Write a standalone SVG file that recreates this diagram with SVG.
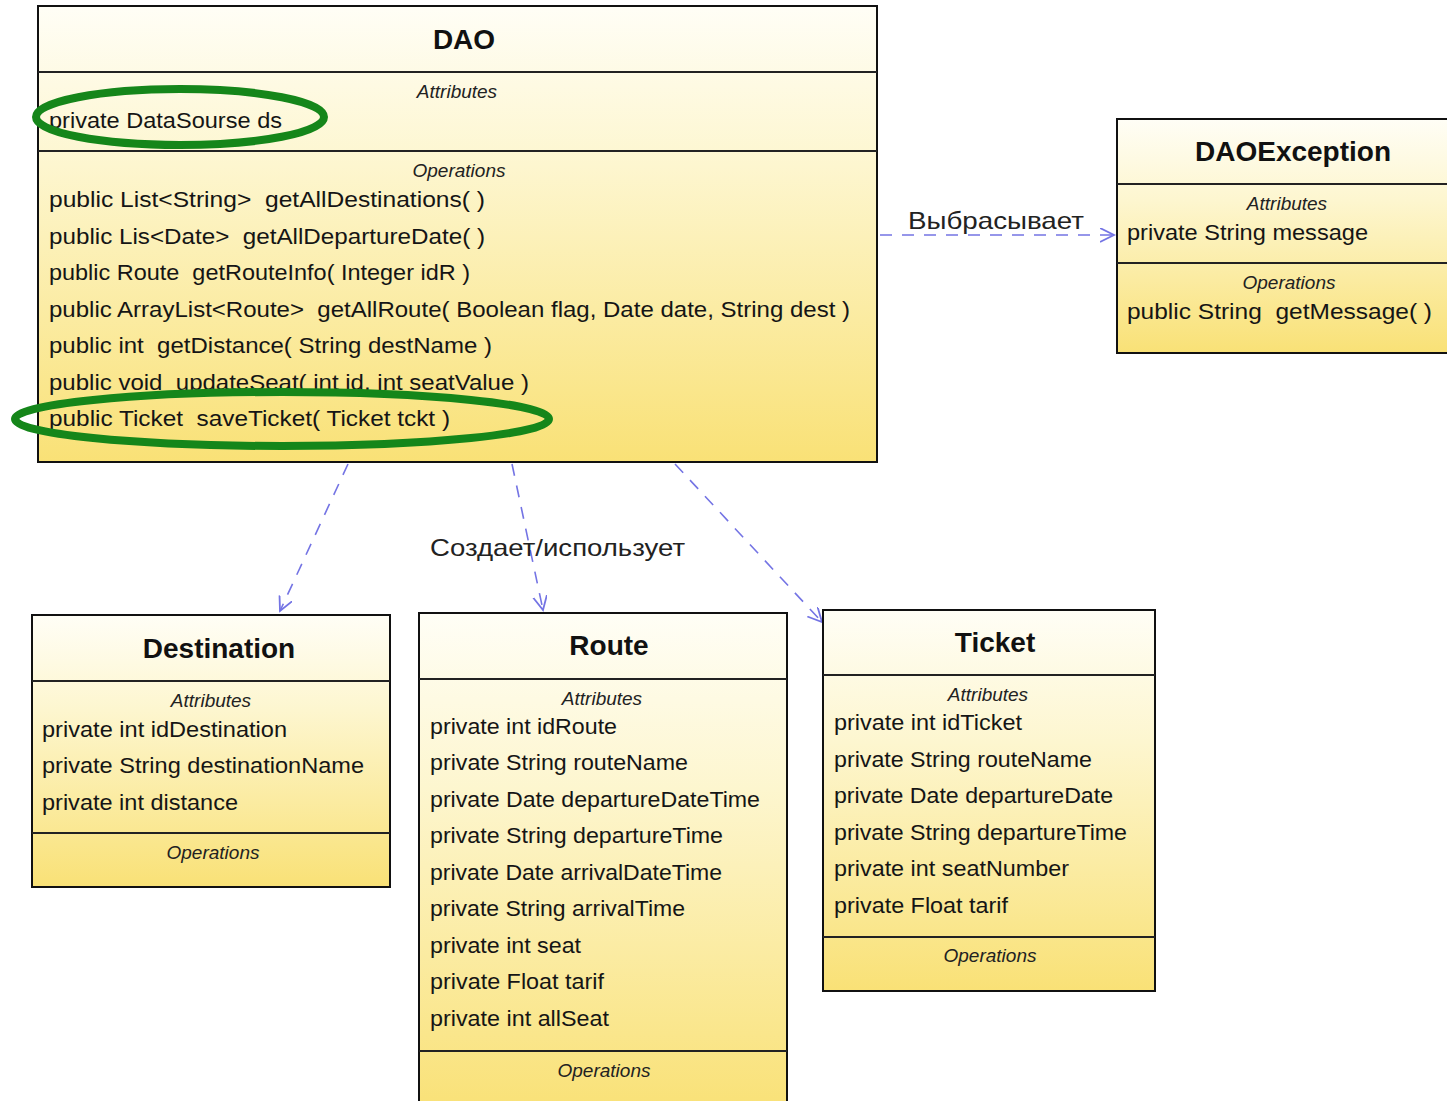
<svg xmlns="http://www.w3.org/2000/svg" width="1447" height="1101" viewBox="0 0 1447 1101" xml:space="preserve">
<style>
.box{stroke:#111;stroke-width:2;fill:url(#g)}
.sep{stroke:#222;stroke-width:2}
.title{font-family:"Liberation Sans",Arial,sans-serif;font-weight:bold;font-size:28px;fill:#111;text-anchor:middle}
.sec{font-family:"Liberation Sans",Arial,sans-serif;font-style:italic;font-size:19px;fill:#222;text-anchor:middle}
.row{font-family:"Liberation Sans",Arial,sans-serif;font-size:22px;fill:#151515;white-space:pre}
.lbl{font-family:"Liberation Sans",Arial,sans-serif;font-size:24px;fill:#222}
.conn{stroke:#7474e4;stroke-width:1.6;fill:none;stroke-dasharray:12 10}
.hl{fill:none;stroke:#15861a;stroke-width:8}
</style>
<defs>
<linearGradient id="g" x1="0" y1="0" x2="0" y2="1">
<stop offset="0" stop-color="#fffef6"/>
<stop offset="0.35" stop-color="#fdf6cf"/>
<stop offset="1" stop-color="#f9e176"/>
</linearGradient>
<marker id="arr" markerUnits="userSpaceOnUse" markerWidth="20" markerHeight="20" refX="14" refY="7" orient="auto" viewBox="0 0 20 20">
<path d="M0,0 L14,7 L0,14" fill="none" stroke="#7474e4" stroke-width="1.8"/>
</marker>
</defs>
<rect width="1447" height="1101" fill="#ffffff"/>

<g id="connectors">
<line class="conn" x1="880" y1="235" x2="1114" y2="235" marker-end="url(#arr)"/>
<line class="conn" x1="348" y1="464" x2="280" y2="611" marker-end="url(#arr)"/>
<line class="conn" x1="512" y1="464" x2="543" y2="610" marker-end="url(#arr)"/>
<line class="conn" x1="675" y1="464" x2="822" y2="622" marker-end="url(#arr)"/>
<text class="lbl" x="908" y="229" textLength="176" lengthAdjust="spacingAndGlyphs">Выбрасывает</text>
<text class="lbl" x="430" y="556" textLength="255" lengthAdjust="spacingAndGlyphs">Создает/использует</text>
</g>

<g id="DAO">
<rect class="box" x="38" y="6" width="839" height="456"/>
<line class="sep" x1="38" y1="72" x2="877" y2="72"/>
<line class="sep" x1="38" y1="151" x2="877" y2="151"/>
<text class="title" x="464" y="49">DAO</text>
<text class="sec" x="457" y="98">Attributes</text>
<text class="row" x="49" y="128" textLength="233" lengthAdjust="spacingAndGlyphs">private DataSourse ds</text>
<text class="sec" x="459" y="177">Operations</text>
<text class="row" x="49" y="207" textLength="436" lengthAdjust="spacingAndGlyphs">public List&lt;String&gt;  getAllDestinations( )</text>
<text class="row" x="49" y="244" textLength="436" lengthAdjust="spacingAndGlyphs">public Lis&lt;Date&gt;  getAllDepartureDate( )</text>
<text class="row" x="49" y="280" textLength="421" lengthAdjust="spacingAndGlyphs">public Route  getRouteInfo( Integer idR )</text>
<text class="row" x="49" y="317" textLength="801" lengthAdjust="spacingAndGlyphs">public ArrayList&lt;Route&gt;  getAllRoute( Boolean flag, Date date, String dest )</text>
<text class="row" x="49" y="353" textLength="443" lengthAdjust="spacingAndGlyphs">public int  getDistance( String destName )</text>
<text class="row" x="49" y="390" textLength="480" lengthAdjust="spacingAndGlyphs">public void  updateSeat( int id, int seatValue )</text>
<text class="row" x="49" y="426" textLength="401" lengthAdjust="spacingAndGlyphs">public Ticket  saveTicket( Ticket tckt )</text>
</g>

<g id="highlights">
<ellipse class="hl" cx="180" cy="117" rx="144" ry="28"/>
<ellipse class="hl" cx="282" cy="419" rx="267" ry="27"/>
</g>

<g id="DAOException">
<rect class="box" x="1117" y="119" width="345" height="234"/>
<line class="sep" x1="1117" y1="184" x2="1462" y2="184"/>
<line class="sep" x1="1117" y1="263" x2="1462" y2="263"/>
<text class="title" x="1293" y="161">DAOException</text>
<text class="sec" x="1287" y="210">Attributes</text>
<text class="row" x="1127" y="240" textLength="241" lengthAdjust="spacingAndGlyphs">private String message</text>
<text class="sec" x="1289" y="289">Operations</text>
<text class="row" x="1127" y="319" textLength="305" lengthAdjust="spacingAndGlyphs">public String  getMessage( )</text>
</g>

<g id="Destination">
<rect class="box" x="32" y="615" width="358" height="272"/>
<line class="sep" x1="32" y1="681" x2="390" y2="681"/>
<line class="sep" x1="32" y1="833" x2="390" y2="833"/>
<text class="title" x="219" y="658">Destination</text>
<text class="sec" x="211" y="707">Attributes</text>
<text class="row" x="42" y="737" textLength="245" lengthAdjust="spacingAndGlyphs">private int idDestination</text>
<text class="row" x="42" y="773" textLength="322" lengthAdjust="spacingAndGlyphs">private String destinationName</text>
<text class="row" x="42" y="810" textLength="196" lengthAdjust="spacingAndGlyphs">private int distance</text>
<text class="sec" x="213" y="859">Operations</text>
</g>

<g id="Route">
<rect class="box" x="419" y="613" width="368" height="500"/>
<line class="sep" x1="419" y1="679" x2="787" y2="679"/>
<line class="sep" x1="419" y1="1051" x2="787" y2="1051"/>
<text class="title" x="609" y="655">Route</text>
<text class="sec" x="602" y="705">Attributes</text>
<text class="row" x="430" y="734" textLength="187" lengthAdjust="spacingAndGlyphs">private int idRoute</text>
<text class="row" x="430" y="770" textLength="258" lengthAdjust="spacingAndGlyphs">private String routeName</text>
<text class="row" x="430" y="807" textLength="330" lengthAdjust="spacingAndGlyphs">private Date departureDateTime</text>
<text class="row" x="430" y="843" textLength="293" lengthAdjust="spacingAndGlyphs">private String departureTime</text>
<text class="row" x="430" y="880" textLength="292" lengthAdjust="spacingAndGlyphs">private Date arrivalDateTime</text>
<text class="row" x="430" y="916" textLength="255" lengthAdjust="spacingAndGlyphs">private String arrivalTime</text>
<text class="row" x="430" y="953" textLength="151" lengthAdjust="spacingAndGlyphs">private int seat</text>
<text class="row" x="430" y="989" textLength="174" lengthAdjust="spacingAndGlyphs">private Float tarif</text>
<text class="row" x="430" y="1026" textLength="179" lengthAdjust="spacingAndGlyphs">private int allSeat</text>
<text class="sec" x="604" y="1077">Operations</text>
</g>

<g id="Ticket">
<rect class="box" x="823" y="610" width="332" height="381"/>
<line class="sep" x1="823" y1="675" x2="1155" y2="675"/>
<line class="sep" x1="823" y1="937" x2="1155" y2="937"/>
<text class="title" x="995" y="652">Ticket</text>
<text class="sec" x="988" y="701">Attributes</text>
<text class="row" x="834" y="730" textLength="188" lengthAdjust="spacingAndGlyphs">private int idTicket</text>
<text class="row" x="834" y="767" textLength="258" lengthAdjust="spacingAndGlyphs">private String routeName</text>
<text class="row" x="834" y="803" textLength="279" lengthAdjust="spacingAndGlyphs">private Date departureDate</text>
<text class="row" x="834" y="840" textLength="293" lengthAdjust="spacingAndGlyphs">private String departureTime</text>
<text class="row" x="834" y="876" textLength="235" lengthAdjust="spacingAndGlyphs">private int seatNumber</text>
<text class="row" x="834" y="913" textLength="174" lengthAdjust="spacingAndGlyphs">private Float tarif</text>
<text class="sec" x="990" y="962">Operations</text>
</g>
</svg>
